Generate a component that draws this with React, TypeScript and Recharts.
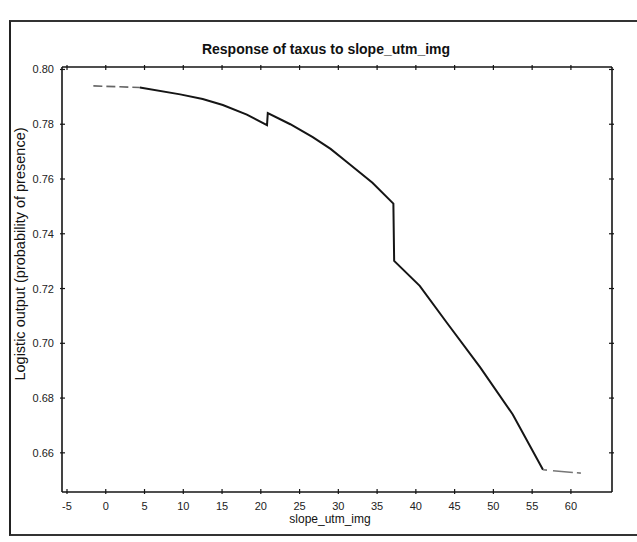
import React from 'react';
import { LineChart, Line, XAxis, YAxis } from 'recharts';

const solidX = [4.4, 9.6, 12.5, 15.1, 18.2, 20.8, 20.9, 23.8, 26.7, 29.0, 31.1, 34.4, 37.1, 37.2, 40.5, 44.0, 48.3, 52.5, 56.4];
const solidY = [0.7934, 0.7909, 0.7892, 0.787, 0.7835, 0.7797, 0.7841, 0.78, 0.7753, 0.771, 0.7662, 0.7586, 0.751, 0.7301, 0.721, 0.7075, 0.6912, 0.674, 0.6538];
const startX = [-1.6, 4.4];
const startY = [0.794, 0.7934];
const endX = [56.4, 61.6];
const endY = [0.6538, 0.6525];
const xTicks = [-5, 0, 5, 10, 15, 20, 25, 30, 35, 40, 45, 50, 55, 60];
const yTicks = [0.66, 0.68, 0.7, 0.72, 0.74, 0.76, 0.78, 0.8];

const toRows = (xs: number[], ys: number[]) => xs.map((x, i) => ({ x, y: ys[i] }));
const solidData = toRows(solidX, solidY);
const startData = toRows(startX, startY);
const endData = toRows(endX, endY);

const FONT = '"Liberation Sans", Arial, sans-serif';
const INK = '#151515';
const X_DOMAIN: [number, number] = [-5.645, 65.3];
const Y_DOMAIN: [number, number] = [0.6457, 0.8009];

const YTickLeft = (p: any) => (
  <g>
    <line x1={p.x} x2={p.x + 5} y1={p.y} y2={p.y} stroke={INK} strokeWidth={1.2} />
    <text x={p.x - 6} y={p.y} dy={4} textAnchor="end" fontSize={11} fontFamily={FONT} fill="#222">
      {Number(p.payload.value).toFixed(2)}
    </text>
  </g>
);
const YTickRight = (p: any) => (
  <line x1={p.x} x2={p.x - 5} y1={p.y} y2={p.y} stroke={INK} strokeWidth={1.2} />
);
const XTickBottom = (p: any) => (
  <g>
    <line x1={p.x} x2={p.x} y1={p.y} y2={p.y - 5} stroke={INK} strokeWidth={1.2} />
    <text x={p.x} y={p.y + 16} textAnchor="middle" fontSize={11} fontFamily={FONT} fill="#222">
      {p.payload.value}
    </text>
  </g>
);
const XTickTop = (p: any) => (
  <line x1={p.x} x2={p.x} y1={p.y} y2={p.y + 5} stroke={INK} strokeWidth={1.2} />
);

export default function App() {
  return (
    <div style={{ position: 'absolute', left: 0, top: 0, width: 637, height: 542, background: '#fff', overflow: 'hidden', fontFamily: FONT }}>
      <div style={{ position: 'absolute', left: 9, top: 20, width: 700, height: 512, borderLeft: '2px solid #222', borderTop: '2px solid #333', borderBottom: '2px solid #333' }} />
      <div style={{ position: 'absolute', left: 0, width: 652, top: 41, textAlign: 'center', fontSize: 14, fontWeight: 'bold', color: '#111' }}>
        Response of taxus to slope_utm_img
      </div>
      <div style={{ position: 'absolute', left: 0, width: 660, top: 512, textAlign: 'center', fontSize: 12, color: '#111' }}>
        slope_utm_img
      </div>
      <div style={{ position: 'absolute', left: 20, top: 254, width: 0, height: 0 }}>
        <div style={{ position: 'absolute', transform: 'translate(-50%, -50%) rotate(-90deg)', whiteSpace: 'nowrap', fontSize: 14.5, color: '#111' }}>
          Logistic output (probability of presence)
        </div>
      </div>
      <div style={{ position: 'absolute', left: 0, top: 0 }}>
        <LineChart width={637} height={542} margin={{ top: 66, right: 24, bottom: 20, left: 22 }}>
          <XAxis dataKey="x" type="number" domain={X_DOMAIN} ticks={xTicks} allowDataOverflow
            height={30} tickSize={0} tickLine={false} tick={<XTickBottom />} stroke={INK} strokeWidth={1.6} interval={0} />
          <XAxis xAxisId="top" orientation="top" dataKey="x" type="number" domain={X_DOMAIN} ticks={xTicks} allowDataOverflow
            height={1} tickSize={0} tickLine={false} tick={<XTickTop />} stroke={INK} strokeWidth={1.6} interval={0} />
          <YAxis dataKey="y" type="number" domain={Y_DOMAIN} ticks={yTicks} allowDataOverflow
            width={40} tickSize={0} tickLine={false} tick={<YTickLeft />} stroke={INK} strokeWidth={1.6} interval={0} />
          <YAxis yAxisId="right" orientation="right" dataKey="y" type="number" domain={Y_DOMAIN} ticks={yTicks} allowDataOverflow
            width={1} tickSize={0} tickLine={false} tick={<YTickRight />} stroke={INK} strokeWidth={1.6} interval={0} />
          <Line data={solidData} xAxisId="top" yAxisId="right" dataKey="y" type="linear" stroke="none" dot={false} legendType="none" isAnimationActive={false} />
          <Line data={startData} dataKey="y" type="linear" stroke="#666" strokeWidth={1.6} strokeDasharray="9 4" dot={false} isAnimationActive={false} />
          <Line data={solidData} dataKey="y" type="linear" stroke={INK} strokeWidth={2} dot={false} isAnimationActive={false} />
          <Line data={endData} dataKey="y" type="linear" stroke="#777" strokeWidth={1.6} strokeDasharray="4 6 20 4" dot={false} isAnimationActive={false} />
        </LineChart>
      </div>
    </div>
  );
}
